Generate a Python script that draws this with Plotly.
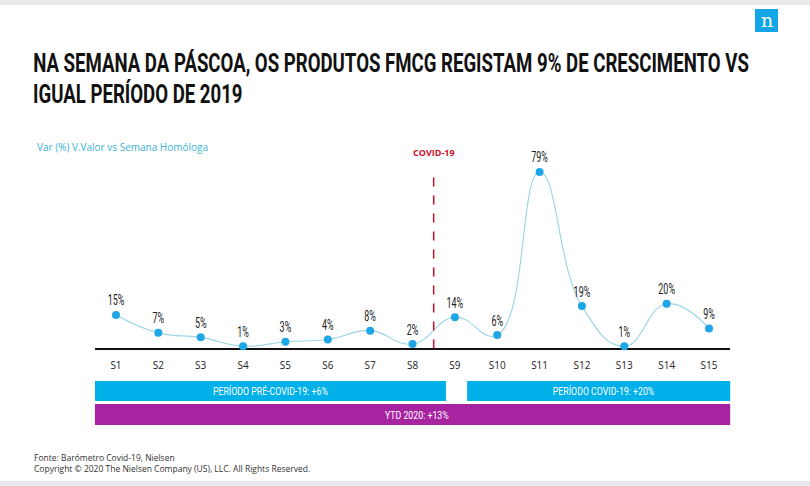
import plotly.graph_objects as go

weeks = ["S1","S2","S3","S4","S5","S6","S7","S8","S9","S10","S11","S12","S13","S14","S15"]
values = [15, 7, 5, 1, 3, 4, 8, 2, 14, 6, 79, 19, 1, 20, 9]
labels = [f"{v}%" for v in values]
covid_pos = 7.5
periods = [
    ("PERÍODO PRÉ-COVID-19: +6%", -0.5, 7.79, "#00b0e8", 0.1749, 0.2160),
    ("PERÍODO COVID-19: +20%", 8.29, 14.73, "#00b0e8", 0.1749, 0.2160),
    ("YTD 2020: +13%", -0.5, 14.73, "#a8239f", 0.1255, 0.1687),
]
title1 = "NA SEMANA DA PÁSCOA, OS PRODUTOS FMCG REGISTAM 9% DE CRESCIMENTO VS"
title2 = "IGUAL PERÍODO DE 2019"

COND = "Roboto, Liberation Sans, sans-serif"

fig = go.Figure()
fig.add_trace(go.Scatter(
    x=weeks, y=values, mode="lines+markers+text",
    line=dict(shape="spline", smoothing=1.3, color="#98d4e6", width=1.1),
    marker=dict(color="#1ea6e6", size=8),
    text=labels, textposition="top center",
    textfont=dict(family=COND, size=14, color="#222"),
    cliponaxis=False, hoverinfo="skip",
))

shapes = [
    dict(type="rect", xref="paper", yref="paper", x0=0, x1=1, y0=1-5/486, y1=1, fillcolor="#e6e9ec", line_width=0, layer="below"),
    dict(type="rect", xref="paper", yref="paper", x0=0, x1=1, y0=0, y1=5/486, fillcolor="#e6e9ec", line_width=0, layer="below"),
    dict(type="rect", xref="paper", yref="paper", x0=755/810, x1=778/810, y0=1-32/486, y1=1-9/486, fillcolor="#12a6e6", line_width=0),
    dict(type="line", xref="x", yref="y", x0=covid_pos, x1=covid_pos, y0=0, y1=80, line=dict(color="#c8102e", width=1.5, dash="dash")),
]
annotations = [
    dict(text="n", xref="paper", yref="paper", x=766.5/810, y=1-20/486, showarrow=False, font=dict(family="DejaVu Serif", size=19, color="white"), xanchor="center", yanchor="middle"),
    dict(text=title1, xref="paper", yref="paper", x=31/810, y=1-63.5/486, showarrow=False, xanchor="left", yanchor="middle", font=dict(family=COND, size=25, color="#111", weight="bold")),
    dict(text=title2, xref="paper", yref="paper", x=31/810, y=1-93.5/486, showarrow=False, xanchor="left", yanchor="middle", font=dict(family=COND, size=25, color="#111", weight="bold")),
    dict(text="Var (%) V.Valor vs Semana Homóloga", xref="paper", yref="paper", x=35/810, y=1-147/486, showarrow=False, xanchor="left", yanchor="middle", font=dict(family="Open Sans, sans-serif", size=10, color="#3bb3d3")),
    dict(text="<b>COVID-19</b>", xref="x", yref="paper", x=covid_pos, y=1-152/486, showarrow=False, xanchor="center", yanchor="middle", font=dict(family="Open Sans, sans-serif", size=9, color="#c8102e")),
    dict(text="Fonte: Barómetro Covid-19, Nielsen", xref="paper", yref="paper", x=32/810, y=1-457/486, showarrow=False, xanchor="left", yanchor="middle", font=dict(family="Open Sans, sans-serif", size=8.5, color="#333")),
    dict(text="Copyright © 2020 The Nielsen Company (US), LLC. All Rights Reserved.", xref="paper", yref="paper", x=32/810, y=1-468/486, showarrow=False, xanchor="left", yanchor="middle", font=dict(family="Open Sans, sans-serif", size=8.5, color="#333")),
]
for text, x0, x1, col, y0, y1 in periods:
    shapes.append(dict(type="rect", xref="x", yref="paper", x0=x0, x1=x1, y0=y0, y1=y1, fillcolor=col, line_width=0))
    annotations.append(dict(text=text, xref="x", yref="paper", x=(x0+x1)/2, y=(y0+y1)/2, showarrow=False, xanchor="center", yanchor="middle", font=dict(family=COND, size=11.5, color="white")))

fig.update_layout(
    width=810, height=486, margin=dict(l=0, r=0, t=0, b=0),
    paper_bgcolor="white", plot_bgcolor="white", showlegend=False,
    xaxis=dict(domain=[94.8/810, 730.2/810], range=[-0.5, 14.5], showgrid=False, zeroline=False, showline=False,
               tickfont=dict(family="Open Sans, sans-serif", size=10, color="#222"), ticks="", ticklabelstandoff=3),
    yaxis=dict(domain=[0.2691, 0.6737], range=[-3, 85], showgrid=False, showticklabels=False,
               zeroline=True, zerolinecolor="#111", zerolinewidth=1.5, showline=False),
    shapes=shapes, annotations=annotations,
)

# Horizontally condense the texts that use a condensed typeface in the reference
post = """
(function(){
  var gd = document.getElementById('{plot_id}');
  if (!gd) return;
  var NS = 'http://www.w3.org/2000/svg';
  function wrap(t){
    var g = document.createElementNS(NS, 'g');
    t.parentNode.insertBefore(g, t);
    g.appendChild(t);
    return g;
  }
  function squeeze(t, s, anchor){
    var g = wrap(t);
    var bb = g.getBBox();
    var ax = anchor === 'l' ? bb.x : bb.x + bb.width / 2;
    g.setAttribute('transform', 'translate(' + (ax * (1 - s)) + ',0) scale(' + s + ',1)');
  }
  function widthOf(t){ return t.getBBox().width; }
  var texts = Array.prototype.slice.call(gd.querySelectorAll('text.annotation-text'));
  var T1 = %s, T2 = %s, B = %s;
  var t1 = null, t2 = null, bars = [];
  texts.forEach(function(t){
    var c = t.textContent;
    if (c === T1) t1 = t; else if (c === T2) t2 = t; else if (B.indexOf(c) >= 0) bars.push(t);
  });
  if (t1) {
    var s = 716 / widthOf(t1);
    squeeze(t1, s, 'l');
    if (t2) squeeze(t2, s, 'l');
  }
  if (bars.length) {
    var ref = bars.filter(function(t){ return t.textContent === B[0]; })[0] || bars[0];
    var sb = 115 / widthOf(ref);
    bars.forEach(function(t){ squeeze(t, sb, 'c'); });
  }
  gd.querySelectorAll('g.textpoint text').forEach(function(t){ squeeze(t, 0.64, 'c'); });
})();
""" % (repr(title1), repr(title2), repr([p[0] for p in periods]).replace("'", '"'))

fig.write_html("out.html", post_script=post)
